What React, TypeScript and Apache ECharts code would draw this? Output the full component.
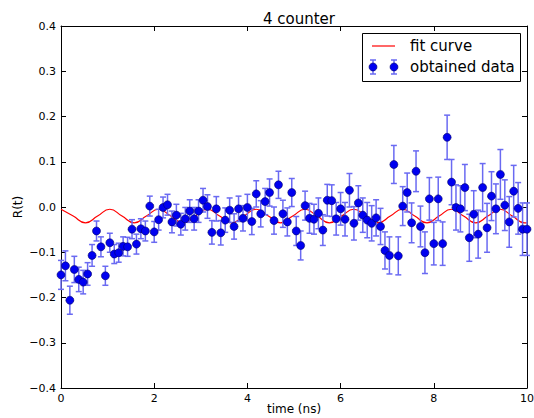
import React, { useEffect, useRef } from "react";
import * as echarts from "echarts";

const times = [
  0, 0.095, 0.19, 0.286, 0.381, 0.476, 0.571, 0.667, 0.762, 0.857,
  0.952, 1.048, 1.143, 1.238, 1.333, 1.429, 1.524, 1.619, 1.714, 1.81,
  1.905, 2.0, 2.095, 2.19, 2.286, 2.381, 2.476, 2.571, 2.667, 2.762,
  2.857, 2.952, 3.048, 3.143, 3.238, 3.333, 3.429, 3.524, 3.619, 3.714,
  3.81, 3.905, 4.0, 4.095, 4.19, 4.286, 4.381, 4.476, 4.571, 4.667,
  4.762, 4.857, 4.952, 5.048, 5.143, 5.238, 5.333, 5.429, 5.524, 5.619,
  5.714, 5.81, 5.905, 6.0, 6.095, 6.19, 6.286, 6.381, 6.476, 6.571,
  6.667, 6.762, 6.857, 6.952, 7.048, 7.143, 7.238, 7.333, 7.429, 7.524,
  7.619, 7.714, 7.81, 7.905, 8.0, 8.095, 8.19, 8.286, 8.381, 8.476,
  8.571, 8.667, 8.762, 8.857, 8.952, 9.048, 9.143, 9.238, 9.333, 9.429,
  9.524, 9.619, 9.714, 9.81, 9.905, 10.0,
];

const rValues = [
  -0.150, -0.130, -0.206, -0.138, -0.160, -0.166, -0.148, -0.107, -0.053, -0.088,
  -0.152, -0.079, -0.104, -0.101, -0.087, -0.088, -0.049, -0.082, -0.048, -0.053,
  0.002, -0.055, -0.028, -0.001, 0.005, -0.033, -0.018, -0.038, -0.026, -0.009,
  -0.026, -0.009, 0.015, 0.001, -0.056, -0.004, -0.057, -0.029, -0.007, -0.043,
  -0.004, -0.025, -0.001, -0.032, 0.029, -0.015, 0.012, 0.032, -0.030, 0.049,
  -0.015, -0.033, 0.032, -0.053, -0.085, 0.003, -0.025, -0.027, -0.014, -0.051,
  0.015, 0.014, -0.026, -0.004, -0.027, 0.037, -0.036, 0.009, -0.018, -0.029,
  -0.036, -0.024, -0.043, -0.096, -0.107, 0.094, -0.108, 0.002, 0.032, -0.035,
  0.079, -0.043, -0.101, 0.018, -0.081, 0.018, -0.081, 0.154, 0.055, -0.001,
  -0.004, 0.043, -0.068, -0.016, -0.060, 0.043, -0.046, 0.024, -0.004, 0.072,
  0.004, -0.033, 0.035, -0.003, -0.049, -0.049,
];

const rErrors = [
  0.032, 0.033, 0.031, 0.029, 0.027, 0.026, 0.025, 0.024, 0.022, 0.022,
  0.021, 0.021, 0.021, 0.021, 0.021, 0.021, 0.021, 0.022, 0.022, 0.022,
  0.022, 0.023, 0.023, 0.023, 0.023, 0.024, 0.024, 0.024, 0.025, 0.025,
  0.025, 0.025, 0.026, 0.026, 0.026, 0.027, 0.027, 0.027, 0.027, 0.028,
  0.028, 0.028, 0.029, 0.029, 0.029, 0.029, 0.029, 0.030, 0.030, 0.030,
  0.030, 0.031, 0.031, 0.032, 0.032, 0.032, 0.033, 0.033, 0.034, 0.034,
  0.035, 0.035, 0.036, 0.036, 0.037, 0.037, 0.037, 0.038, 0.038, 0.039,
  0.039, 0.040, 0.040, 0.041, 0.041, 0.042, 0.042, 0.043, 0.043, 0.044,
  0.045, 0.045, 0.046, 0.047, 0.047, 0.048, 0.048, 0.049, 0.050, 0.050,
  0.051, 0.051, 0.052, 0.052, 0.053, 0.053, 0.054, 0.054, 0.055, 0.055,
  0.056, 0.056, 0.057, 0.057, 0.058, 0.058,
];

const fitTimes = [
  0, 0.262, 0.524, 0.785, 1.047, 1.309, 1.571, 1.832, 2.094, 2.356,
  2.618, 2.879, 3.141, 3.403, 3.665, 3.926, 4.188, 4.45, 4.712, 4.973,
  5.235, 5.497, 5.759, 6.02, 6.282, 6.544, 6.806, 7.067, 7.329, 7.591,
  7.853, 8.114, 8.376, 8.638, 8.9, 9.161, 9.423, 9.685, 9.947, 10.0,
];

const fitValues = [
  -0.005, -0.02, -0.035, -0.02, -0.005, -0.02, -0.035, -0.02, -0.005, -0.02,
  -0.035, -0.02, -0.005, -0.02, -0.035, -0.02, -0.005, -0.02, -0.035, -0.02,
  -0.005, -0.02, -0.035, -0.02, -0.005, -0.02, -0.035, -0.02, -0.005, -0.02,
  -0.035, -0.02, -0.005, -0.02, -0.035, -0.02, -0.005, -0.02, -0.035, -0.0349,
];

const titleText = "4 counter";
const xName = "time (ns)";
const yName = "R(t)";
const legendFit = "fit curve";
const legendData = "obtained data";

const FONT = "DejaVu Sans";
const BAR_COLOR = "#6a6af2";
const DOT_COLOR = "#0000f0";

export default function App() {
  const ref = useRef<HTMLDivElement | null>(null);

  useEffect(() => {
    if (!ref.current) return;
    const chart = echarts.init(ref.current, undefined, { renderer: "svg" });

    const errData = times.map((t, i) => [t, rValues[i], rErrors[i]]);
    const ptData = times.map((t, i) => [t, rValues[i]]);
    const fitData = fitTimes.map((t, i) => [t, fitValues[i]]);

    const yFmt = (v: number) =>
      Math.abs(v) < 1e-9 ? "0.0" : v.toFixed(1).replace("-", "\u2212");

    const axisCommon = {
      axisLine: { show: true, onZero: false, lineStyle: { color: "#000", width: 1 } },
      axisTick: { show: true, inside: true, length: 5, lineStyle: { color: "#000" } },
      splitLine: { show: false },
    };

    const legendBarX = [373, 394];
    const legendY2 = 67;

    chart.setOption({
      animation: false,
      backgroundColor: "#fff",
      title: {
        text: titleText,
        left: 294,
        top: 6,
        textAlign: "center",
        textStyle: { fontFamily: FONT, fontSize: 15, fontWeight: "normal", color: "#000" },
      },
      grid: { left: 61, right: 7, top: 26, bottom: 30, containLabel: false, outerBoundsMode: "none" },
      xAxis: [
        {
          type: "value",
          min: 0,
          max: 10,
          interval: 2,
          position: "bottom",
          name: xName,
          nameLocation: "middle",
          nameGap: 15,
          nameMoveOverlap: false,
          nameTextStyle: { fontFamily: FONT, fontSize: 12, color: "#000" },
          axisLabel: { margin: 5, fontFamily: FONT, fontSize: 11, color: "#000", formatter: (v: number) => String(v) },
          ...axisCommon,
        },
        {
          type: "value",
          min: 0,
          max: 10,
          interval: 2,
          position: "top",
          axisLabel: { show: false },
          ...axisCommon,
        },
      ],
      yAxis: [
        {
          type: "value",
          min: -0.4,
          max: 0.4,
          interval: 0.1,
          position: "left",
          name: yName,
          nameLocation: "middle",
          nameGap: 37,
          nameRotate: 90,
          nameMoveOverlap: false,
          nameTextStyle: { fontFamily: FONT, fontSize: 12, color: "#000" },
          axisLabel: { margin: 5, fontFamily: FONT, fontSize: 11, color: "#000", formatter: yFmt },
          ...axisCommon,
        },
        {
          type: "value",
          min: -0.4,
          max: 0.4,
          interval: 0.1,
          position: "right",
          axisLabel: { show: false },
          ...axisCommon,
        },
      ],
      series: [
        {
          type: "line",
          name: legendFit,
          data: fitData,
          smooth: true,
          showSymbol: false,
          symbol: "none",
          lineStyle: { color: "#ff0000", width: 1.2 },
          z: 2,
        },
        {
          type: "custom",
          name: legendData + " err",
          data: errData,
          encode: { x: 0, y: 1 },
          z: 3,
          renderItem: (params: any, api: any) => {
            const x = api.value(0);
            const y = api.value(1);
            const e = api.value(2);
            const top = api.coord([x, y + e]);
            const bot = api.coord([x, y - e]);
            const cw = 3;
            const st = { stroke: BAR_COLOR, lineWidth: 1.5 };
            return {
              type: "group",
              children: [
                { type: "line", shape: { x1: top[0], y1: top[1], x2: bot[0], y2: bot[1] }, style: st },
                { type: "line", shape: { x1: top[0] - cw, y1: top[1], x2: top[0] + cw, y2: top[1] }, style: st },
                { type: "line", shape: { x1: bot[0] - cw, y1: bot[1], x2: bot[0] + cw, y2: bot[1] }, style: st },
              ],
            };
          },
        },
        {
          type: "scatter",
          name: legendData,
          data: ptData,
          symbol: "circle",
          symbolSize: 8,
          itemStyle: { color: DOT_COLOR, borderColor: "#00006a", borderWidth: 0.6, opacity: 1 },
          z: 4,
        },
      ],
      graphic: [
        {
          type: "group",
          z: 100,
          children: [
            {
              type: "rect",
              shape: { x: 362.5, y: 33.5, width: 158, height: 48 },
              style: { fill: "#fff", stroke: "#000", lineWidth: 1 },
            },
            {
              type: "line",
              shape: { x1: 372, y1: 46, x2: 395, y2: 46 },
              style: { stroke: "#ff0000", lineWidth: 1.2 },
            },
            {
              type: "text",
              x: 410,
              y: 46,
              style: { text: legendFit, fontFamily: FONT, fontSize: 15, fill: "#000", verticalAlign: "middle", align: "left" },
            },
            ...legendBarX.flatMap((bx) => [
              { type: "line", shape: { x1: bx, y1: legendY2 - 7, x2: bx, y2: legendY2 + 7 }, style: { stroke: BAR_COLOR, lineWidth: 1.5 } },
              { type: "line", shape: { x1: bx - 3, y1: legendY2 - 7, x2: bx + 3, y2: legendY2 - 7 }, style: { stroke: BAR_COLOR, lineWidth: 1.5 } },
              { type: "line", shape: { x1: bx - 3, y1: legendY2 + 7, x2: bx + 3, y2: legendY2 + 7 }, style: { stroke: BAR_COLOR, lineWidth: 1.5 } },
              { type: "circle", shape: { cx: bx, cy: legendY2, r: 4 }, style: { fill: DOT_COLOR, stroke: "#00006a", lineWidth: 0.6 } },
            ]),
            {
              type: "text",
              x: 410,
              y: 67,
              style: { text: legendData, fontFamily: FONT, fontSize: 15, fill: "#000", verticalAlign: "middle", align: "left" },
            },
          ],
        },
      ],
    });

    return () => chart.dispose();
  }, []);

  return (
    <div
      ref={ref}
      style={{ position: "absolute", left: 0, top: 0, width: 534, height: 418, background: "#fff" }}
    />
  );
}
